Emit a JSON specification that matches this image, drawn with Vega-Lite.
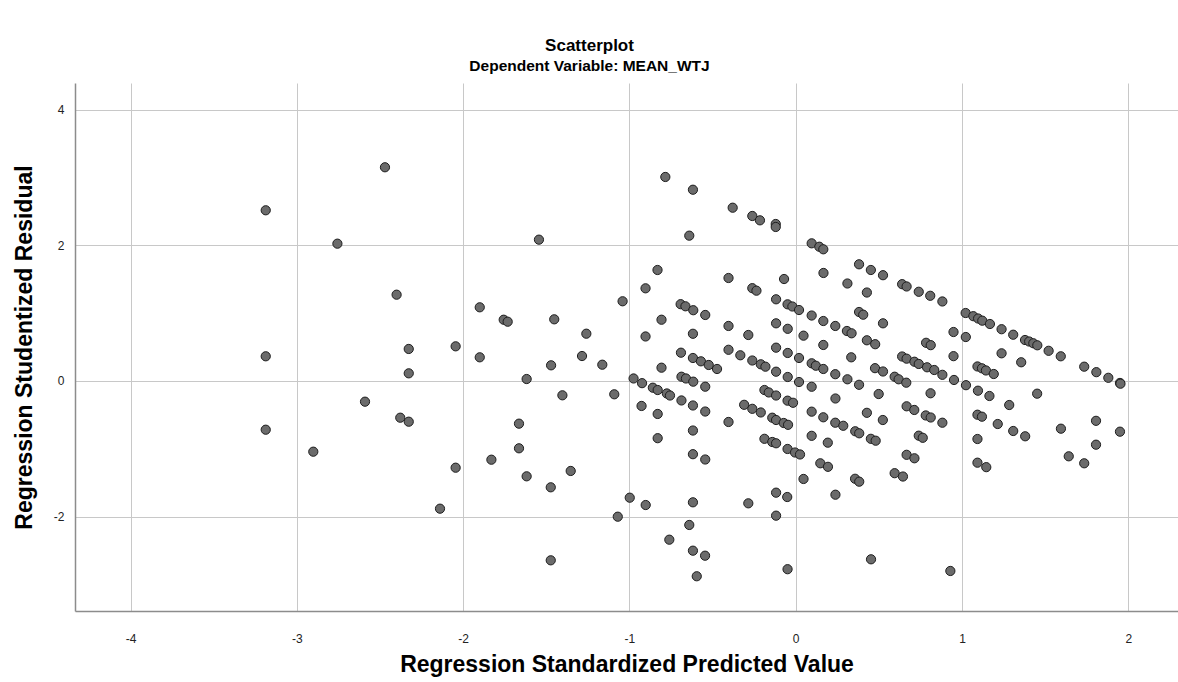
{
  "$schema": "https://vega.github.io/schema/vega-lite/v6.json",
  "autosize": {"type": "none"},
  "width": 1103,
  "height": 528,
  "padding": {"left": 75, "top": 83, "right": 0, "bottom": 71},
  "background": "white",
  "title": {
    "text": "Scatterplot",
    "subtitle": "Dependent Variable: MEAN_WTJ",
    "anchor": "middle",
    "dx": -37,
    "offset": 8,
    "font": "Liberation Sans",
    "fontSize": 17,
    "fontWeight": "bold",
    "color": "#000000",
    "subtitleFont": "Liberation Sans",
    "subtitleFontSize": 15.5,
    "subtitleFontWeight": "bold",
    "subtitleColor": "#000000",
    "subtitlePadding": 4
  },
  "config": {
    "view": {"stroke": null},
    "axis": {
      "labelFont": "Liberation Sans",
      "labelFontSize": 12,
      "labelColor": "#222222",
      "titleFont": "Liberation Sans",
      "titleFontSize": 23,
      "titleFontWeight": "bold",
      "titleColor": "#000000",
      "gridColor": "#c8c8c8",
      "gridWidth": 1,
      "gridOpacity": 1,
      "domainColor": "#8c8c8c",
      "domainWidth": 1.5,
      "ticks": false
    }
  },
  "data": {
    "values": [
      {"pred": -3.187, "resid": 2.516}, {"pred": -2.470, "resid": 3.150}, {"pred": -2.756, "resid": 2.024},
      {"pred": -2.400, "resid": 1.272}, {"pred": -3.187, "resid": 0.364}, {"pred": -3.187, "resid": -0.718},
      {"pred": -2.590, "resid": -0.305}, {"pred": -2.901, "resid": -1.042}, {"pred": -2.378, "resid": -0.541},
      {"pred": -2.327, "resid": 0.472}, {"pred": -2.327, "resid": 0.113}, {"pred": -2.327, "resid": -0.600},
      {"pred": -2.139, "resid": -1.882}, {"pred": -2.045, "resid": 0.511}, {"pred": -2.045, "resid": -1.278},
      {"pred": -1.900, "resid": 1.086}, {"pred": -1.900, "resid": 0.349}, {"pred": -1.830, "resid": -1.160},
      {"pred": -1.756, "resid": 0.903}, {"pred": -1.732, "resid": 0.874}, {"pred": -1.664, "resid": -0.629},
      {"pred": -1.664, "resid": -0.992}, {"pred": -1.618, "resid": 0.029}, {"pred": -1.618, "resid": -1.405},
      {"pred": -1.544, "resid": 2.083}, {"pred": -1.473, "resid": -1.567}, {"pred": -1.473, "resid": -2.643},
      {"pred": -1.471, "resid": 0.231}, {"pred": -1.452, "resid": 0.909}, {"pred": -1.403, "resid": -0.211},
      {"pred": -1.353, "resid": -1.326}, {"pred": -1.285, "resid": 0.368}, {"pred": -1.259, "resid": 0.697},
      {"pred": -1.163, "resid": 0.240}, {"pred": -1.091, "resid": -0.196}, {"pred": -1.070, "resid": -2.000},
      {"pred": -1.041, "resid": 1.175}, {"pred": -0.998, "resid": -1.720}, {"pred": -0.975, "resid": 0.037},
      {"pred": -0.927, "resid": -0.368}, {"pred": -0.924, "resid": -0.032}, {"pred": -0.903, "resid": 1.366},
      {"pred": -0.903, "resid": 0.656}, {"pred": -0.902, "resid": -1.828}, {"pred": -0.859, "resid": -0.099},
      {"pred": -0.831, "resid": 1.636}, {"pred": -0.830, "resid": -0.133}, {"pred": -0.830, "resid": -0.486},
      {"pred": -0.830, "resid": -0.843}, {"pred": -0.807, "resid": 0.903}, {"pred": -0.807, "resid": 0.196},
      {"pred": -0.784, "resid": 3.007}, {"pred": -0.775, "resid": -0.184}, {"pred": -0.756, "resid": -0.214},
      {"pred": -0.760, "resid": -2.339}, {"pred": -0.692, "resid": 1.132}, {"pred": -0.690, "resid": 0.417},
      {"pred": -0.687, "resid": 0.063}, {"pred": -0.687, "resid": -0.287}, {"pred": -0.663, "resid": 1.101},
      {"pred": -0.660, "resid": 0.037}, {"pred": -0.640, "resid": 2.142}, {"pred": -0.640, "resid": -2.122},
      {"pred": -0.618, "resid": 2.819}, {"pred": -0.616, "resid": 1.043}, {"pred": -0.618, "resid": 0.696},
      {"pred": -0.618, "resid": 0.339}, {"pred": -0.616, "resid": -0.010}, {"pred": -0.618, "resid": -0.361},
      {"pred": -0.618, "resid": -0.730}, {"pred": -0.618, "resid": -1.079}, {"pred": -0.618, "resid": -1.788},
      {"pred": -0.618, "resid": -2.501}, {"pred": -0.595, "resid": -2.878}, {"pred": -0.570, "resid": 0.290},
      {"pred": -0.544, "resid": 0.973}, {"pred": -0.544, "resid": -0.084}, {"pred": -0.544, "resid": -0.450},
      {"pred": -0.544, "resid": -1.157}, {"pred": -0.545, "resid": -2.575}, {"pred": -0.523, "resid": 0.236},
      {"pred": -0.473, "resid": 0.177}, {"pred": -0.404, "resid": 1.518}, {"pred": -0.404, "resid": 0.811},
      {"pred": -0.404, "resid": 0.460}, {"pred": -0.404, "resid": -0.604}, {"pred": -0.379, "resid": 2.554},
      {"pred": -0.333, "resid": 0.379}, {"pred": -0.310, "resid": -0.351}, {"pred": -0.285, "resid": 0.678},
      {"pred": -0.285, "resid": -1.803}, {"pred": -0.261, "resid": 2.432}, {"pred": -0.261, "resid": 1.368},
      {"pred": -0.261, "resid": 0.302}, {"pred": -0.261, "resid": -0.410}, {"pred": -0.236, "resid": 1.331},
      {"pred": -0.215, "resid": 2.368}, {"pred": -0.210, "resid": 0.246}, {"pred": -0.210, "resid": -0.464},
      {"pred": -0.188, "resid": -0.133}, {"pred": -0.182, "resid": 0.211}, {"pred": -0.188, "resid": -0.852},
      {"pred": -0.162, "resid": -0.169}, {"pred": -0.141, "resid": -0.541}, {"pred": -0.141, "resid": -0.899},
      {"pred": -0.120, "resid": 2.314}, {"pred": -0.120, "resid": 2.270}, {"pred": -0.118, "resid": 1.204},
      {"pred": -0.118, "resid": 0.850}, {"pred": -0.118, "resid": 0.491}, {"pred": -0.118, "resid": 0.137},
      {"pred": -0.118, "resid": -0.214}, {"pred": -0.118, "resid": -0.575}, {"pred": -0.118, "resid": -0.918},
      {"pred": -0.118, "resid": -1.646}, {"pred": -0.118, "resid": -1.985}, {"pred": -0.072, "resid": -0.619},
      {"pred": -0.070, "resid": 1.503}, {"pred": -0.049, "resid": 1.130}, {"pred": -0.048, "resid": 0.769},
      {"pred": -0.048, "resid": 0.413}, {"pred": -0.048, "resid": 0.059}, {"pred": -0.049, "resid": -0.290},
      {"pred": -0.046, "resid": -0.646}, {"pred": -0.049, "resid": -1.002}, {"pred": -0.051, "resid": -1.710},
      {"pred": -0.049, "resid": -2.774}, {"pred": -0.020, "resid": 1.098}, {"pred": -0.016, "resid": -0.321},
      {"pred": -0.004, "resid": -1.054}, {"pred": 0.020, "resid": 1.046}, {"pred": 0.020, "resid": 0.339},
      {"pred": 0.020, "resid": -0.015}, {"pred": 0.026, "resid": -1.083}, {"pred": 0.047, "resid": 0.668},
      {"pred": 0.047, "resid": -1.444}, {"pred": 0.096, "resid": 2.029}, {"pred": 0.142, "resid": 1.979},
      {"pred": 0.166, "resid": 1.941}, {"pred": 0.096, "resid": 0.965}, {"pred": 0.166, "resid": 0.884},
      {"pred": 0.238, "resid": 0.811}, {"pred": 0.308, "resid": 0.737}, {"pred": 0.336, "resid": 0.703},
      {"pred": 0.096, "resid": 0.261}, {"pred": 0.121, "resid": 0.225}, {"pred": 0.166, "resid": 0.177},
      {"pred": 0.238, "resid": 0.100}, {"pred": 0.311, "resid": 0.025}, {"pred": 0.381, "resid": -0.056},
      {"pred": 0.096, "resid": -0.085}, {"pred": 0.096, "resid": -0.452}, {"pred": 0.166, "resid": -0.535},
      {"pred": 0.238, "resid": -0.615}, {"pred": 0.286, "resid": -0.660}, {"pred": 0.358, "resid": -0.741},
      {"pred": 0.382, "resid": -0.771}, {"pred": 0.452, "resid": -0.852}, {"pred": 0.481, "resid": -0.880},
      {"pred": 0.096, "resid": -0.808}, {"pred": 0.167, "resid": 1.592}, {"pred": 0.166, "resid": 0.531},
      {"pred": 0.193, "resid": -0.909}, {"pred": 0.148, "resid": -1.213}, {"pred": 0.194, "resid": -1.265},
      {"pred": 0.239, "resid": -0.258}, {"pred": 0.239, "resid": -1.676}, {"pred": 0.311, "resid": 1.437},
      {"pred": 0.334, "resid": 0.349}, {"pred": 0.357, "resid": -1.441}, {"pred": 0.382, "resid": -1.484},
      {"pred": 0.381, "resid": 1.720}, {"pred": 0.381, "resid": 1.017}, {"pred": 0.406, "resid": 0.977},
      {"pred": 0.428, "resid": 1.304}, {"pred": 0.428, "resid": 0.600}, {"pred": 0.428, "resid": -0.469},
      {"pred": 0.452, "resid": 1.636}, {"pred": 0.453, "resid": -2.628}, {"pred": 0.478, "resid": 0.542},
      {"pred": 0.477, "resid": 0.189}, {"pred": 0.499, "resid": -0.192}, {"pred": 0.525, "resid": 1.559},
      {"pred": 0.525, "resid": 0.850}, {"pred": 0.525, "resid": 0.140}, {"pred": 0.524, "resid": -0.575},
      {"pred": 0.595, "resid": 0.063}, {"pred": 0.619, "resid": 0.025}, {"pred": 0.665, "resid": -0.025},
      {"pred": 0.595, "resid": -1.359}, {"pred": 0.645, "resid": -1.408}, {"pred": 0.640, "resid": 1.427},
      {"pred": 0.667, "resid": 1.393}, {"pred": 0.740, "resid": 1.315}, {"pred": 0.809, "resid": 1.256},
      {"pred": 0.882, "resid": 1.172}, {"pred": 0.640, "resid": 0.361}, {"pred": 0.667, "resid": 0.329},
      {"pred": 0.714, "resid": 0.284}, {"pred": 0.740, "resid": 0.251}, {"pred": 0.790, "resid": 0.202},
      {"pred": 0.833, "resid": 0.162}, {"pred": 0.882, "resid": 0.091}, {"pred": 0.667, "resid": -0.373},
      {"pred": 0.713, "resid": -0.427}, {"pred": 0.782, "resid": -0.508}, {"pred": 0.812, "resid": -0.538},
      {"pred": 0.882, "resid": -0.615}, {"pred": 0.740, "resid": -0.806}, {"pred": 0.764, "resid": -0.837},
      {"pred": 0.667, "resid": -1.088}, {"pred": 0.714, "resid": -1.139}, {"pred": 0.784, "resid": 0.563},
      {"pred": 0.812, "resid": 0.528}, {"pred": 0.811, "resid": -0.181}, {"pred": 0.930, "resid": -2.800},
      {"pred": 0.949, "resid": 0.722}, {"pred": 1.023, "resid": 0.648}, {"pred": 0.949, "resid": 0.366},
      {"pred": 0.952, "resid": 0.015}, {"pred": 1.024, "resid": -0.062}, {"pred": 1.096, "resid": -0.143},
      {"pred": 1.165, "resid": -0.221}, {"pred": 1.022, "resid": 1.002}, {"pred": 1.068, "resid": 0.955},
      {"pred": 1.097, "resid": 0.921}, {"pred": 1.122, "resid": 0.889}, {"pred": 1.168, "resid": 0.840},
      {"pred": 1.238, "resid": 0.763}, {"pred": 1.308, "resid": 0.682}, {"pred": 1.379, "resid": 0.604},
      {"pred": 1.404, "resid": 0.582}, {"pred": 1.429, "resid": 0.556}, {"pred": 1.453, "resid": 0.526},
      {"pred": 1.521, "resid": 0.445}, {"pred": 1.594, "resid": 0.364}, {"pred": 1.238, "resid": 0.408},
      {"pred": 1.356, "resid": 0.276}, {"pred": 1.093, "resid": 0.214}, {"pred": 1.120, "resid": 0.187},
      {"pred": 1.144, "resid": 0.155}, {"pred": 1.191, "resid": 0.103}, {"pred": 1.735, "resid": 0.211},
      {"pred": 1.808, "resid": 0.130}, {"pred": 1.880, "resid": 0.047}, {"pred": 1.950, "resid": -0.029},
      {"pred": 1.953, "resid": -0.040}, {"pred": 1.452, "resid": -0.187}, {"pred": 1.284, "resid": -0.354},
      {"pred": 1.093, "resid": -0.497}, {"pred": 1.120, "resid": -0.526}, {"pred": 1.215, "resid": -0.634},
      {"pred": 1.308, "resid": -0.737}, {"pred": 1.380, "resid": -0.815}, {"pred": 1.595, "resid": -0.703},
      {"pred": 1.806, "resid": -0.587}, {"pred": 1.950, "resid": -0.747}, {"pred": 1.093, "resid": -0.855},
      {"pred": 1.806, "resid": -0.939}, {"pred": 1.642, "resid": -1.110}, {"pred": 1.735, "resid": -1.213},
      {"pred": 1.093, "resid": -1.204}, {"pred": 1.146, "resid": -1.270}
    ]
  },
  "mark": {
    "type": "point",
    "shape": "circle",
    "filled": true,
    "size": 85,
    "fill": "#6b6b6b",
    "stroke": "#1e1e1e",
    "strokeWidth": 1,
    "opacity": 1
  },
  "encoding": {
    "x": {
      "field": "pred",
      "type": "quantitative",
      "title": "Regression Standardized Predicted Value",
      "scale": {"domain": [-4.334, 2.299], "nice": false, "zero": false},
      "axis": {"values": [-4, -3, -2, -1, 0, 1, 2], "labelExpr": "toString(datum.value)", "labelPadding": 22, "titlePadding": 9}
    },
    "y": {
      "field": "resid",
      "type": "quantitative",
      "title": "Regression Studentized Residual",
      "scale": {"domain": [-3.39, 4.392], "nice": false, "zero": false},
      "axis": {"values": [-2, 0, 2, 4], "labelExpr": "toString(datum.value)", "labelPadding": 11, "titlePadding": 17}
    }
  }
}
